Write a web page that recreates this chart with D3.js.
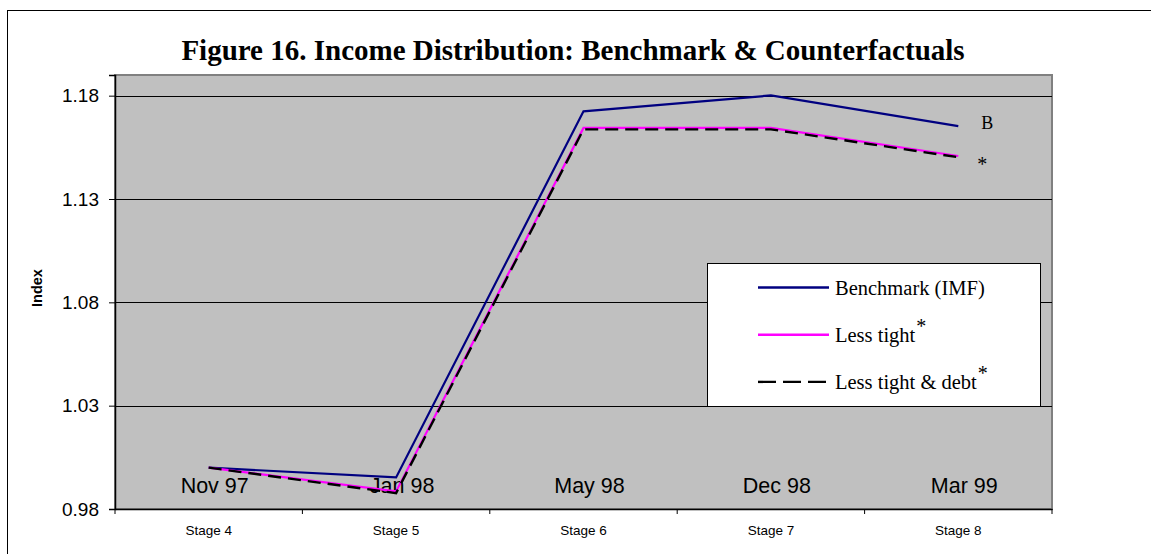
<!DOCTYPE html>
<html>
<head>
<meta charset="utf-8">
<script src="https://cdn.jsdelivr.net/npm/d3@7"></script>
<style>
  body { margin: 0; background: #fff; }
  svg { display: block; }
</style>
</head>
<body>
<div id="chart"></div>
<script>
// data
var stages = ["Stage 4", "Stage 5", "Stage 6", "Stage 7", "Stage 8"];
var dates = ["Nov 97", "Jan 98", "May 98", "Dec 98", "Mar 99"];
var benchmark = [1.000, 0.9953, 1.1724, 1.1801, 1.1653];
var lessTight = [1.000, 0.9885, 1.1644, 1.1644, 1.1508];
var lessTightDebt = [1.000, 0.9877, 1.1637, 1.1637, 1.1502];
var yTicks = [0.98, 1.03, 1.08, 1.13, 1.18];

var width = 1151, height = 554;
var plot = {left: 115, right: 1052, top: 75, bottom: 509};

var svg = d3.select("#chart").append("svg")
  .attr("width", width)
  .attr("height", height);

// outer frame (right/bottom run off the page)
svg.append("rect")
  .attr("x", 7.5).attr("y", 10.5)
  .attr("width", 1160).attr("height", 560)
  .attr("fill", "none").attr("stroke", "#000");

svg.append("text")
  .attr("x", 573).attr("y", 60)
  .attr("text-anchor", "middle")
  .style("font-family", "'Liberation Serif', 'Times New Roman', serif")
  .style("font-weight", "bold")
  .style("font-size", "29px")
  .text("Figure 16. Income Distribution: Benchmark & Counterfactuals");

var x = d3.scaleBand()
  .domain(stages)
  .range([plot.left, plot.right]);

var y = d3.scaleLinear()
  .domain([0.98, 1.19])
  .range([plot.bottom, plot.top]);

var cx = function(i) { return x(stages[i]) + x.bandwidth() / 2; };

// plot area
svg.append("rect")
  .attr("x", plot.left).attr("y", plot.top)
  .attr("width", plot.right - plot.left)
  .attr("height", plot.bottom - plot.top)
  .attr("fill", "#c0c0c0")
  .attr("stroke", "#808080")
  .attr("stroke-width", 2);

// gridlines
svg.append("g")
  .selectAll("line")
  .data(yTicks.slice(1))
  .enter().append("line")
  .attr("x1", plot.left).attr("x2", plot.right)
  .attr("y1", function(d) { return Math.round(y(d)) + 0.5; })
  .attr("y2", function(d) { return Math.round(y(d)) + 0.5; })
  .attr("stroke", "#000").attr("stroke-width", 1);

// y axis
var yAxis = svg.append("g")
  .attr("transform", "translate(" + plot.left + ",0)")
  .call(d3.axisLeft(y).tickValues(yTicks).tickFormat(d3.format(".2f")).tickSize(6).tickPadding(10));
yAxis.select(".domain").attr("stroke", "#000").attr("stroke-width", 1.5);
yAxis.selectAll("text")
  .style("font-family", "'Liberation Sans', Arial, sans-serif")
  .style("font-size", "19px")
  .attr("fill", "#000");

// x axis
var xAxis = svg.append("g")
  .attr("transform", "translate(0," + plot.bottom + ")")
  .call(d3.axisBottom(x).tickSize(0).tickPadding(16));
xAxis.select(".domain").attr("stroke", "#000").attr("stroke-width", 1.5);
xAxis.selectAll("text")
  .style("font-family", "'Liberation Sans', Arial, sans-serif")
  .style("font-size", "13.5px")
  .attr("fill", "#000");
// ticks between categories
xAxis.selectAll(".sep")
  .data(stages.concat(["end"]))
  .enter().append("line")
  .attr("class", "sep")
  .attr("x1", function(d, i) { return plot.left + i * x.bandwidth(); })
  .attr("x2", function(d, i) { return plot.left + i * x.bandwidth(); })
  .attr("y1", 0).attr("y2", 5)
  .attr("stroke", "#000");

svg.append("text")
  .attr("transform", "translate(42,288) rotate(-90)")
  .attr("text-anchor", "middle")
  .style("font-family", "'Liberation Sans', Arial, sans-serif")
  .style("font-weight", "bold")
  .style("font-size", "14.5px")
  .text("Index");

// date labels inside the plot
svg.append("g")
  .selectAll("text")
  .data(dates)
  .enter().append("text")
  .attr("x", function(d, i) { return cx(i) + 6; })
  .attr("y", 493)
  .attr("text-anchor", "middle")
  .style("font-family", "'Liberation Sans', Arial, sans-serif")
  .style("font-size", "21.5px")
  .text(function(d) { return d; });

var line = d3.line()
  .x(function(d, i) { return cx(i); })
  .y(function(d) { return y(d); });

svg.append("path").datum(benchmark)
  .attr("d", line).attr("fill", "none")
  .attr("stroke", "#000080").attr("stroke-width", 2.2);

svg.append("path").datum(lessTight)
  .attr("d", line).attr("fill", "none")
  .attr("stroke", "#ff00ff").attr("stroke-width", 2.2);

svg.append("path").datum(lessTightDebt)
  .attr("d", line).attr("fill", "none")
  .attr("stroke", "#000").attr("stroke-width", 2.4)
  .attr("stroke-dasharray", "13,7");

// end labels
var serif = "'Liberation Serif', 'Times New Roman', serif";
svg.append("text")
  .attr("x", cx(4) + 29).attr("y", y(benchmark[4]) + 3)
  .style("font-family", serif).style("font-size", "18px")
  .attr("text-anchor", "middle")
  .text("B");
svg.append("text")
  .attr("x", cx(4) + 24).attr("y", y(lessTight[4]) + 15)
  .style("font-family", serif).style("font-size", "20px")
  .attr("text-anchor", "middle")
  .text("*");

// legend
var legend = svg.append("g").attr("transform", "translate(707,263)");
legend.append("rect")
  .attr("x", 0.5).attr("y", 0.5)
  .attr("width", 333).attr("height", 143)
  .attr("fill", "#fff").attr("stroke", "#000");

var legendItems = [
  {label: "Benchmark (IMF)", color: "#000080", dash: null, star: false},
  {label: "Less tight", color: "#ff00ff", dash: null, star: true},
  {label: "Less tight & debt", color: "#000", dash: "18,7", star: true}
];

var rows = legend.selectAll(".item")
  .data(legendItems)
  .enter().append("g")
  .attr("class", "item")
  .attr("transform", function(d, i) { return "translate(0," + (24.5 + i * 47.2) + ")"; });

rows.append("line")
  .attr("x1", 51).attr("x2", 122)
  .attr("stroke", function(d) { return d.color; })
  .attr("stroke-width", 2.4)
  .attr("stroke-dasharray", function(d) { return d.dash; });

var lt = rows.append("text")
  .attr("x", 128).attr("y", 7.5)
  .style("font-family", serif)
  .style("font-size", "20.5px")
  .text(function(d) { return d.label; });
lt.filter(function(d) { return d.star; })
  .append("tspan")
  .attr("dx", 1).attr("dy", -9)
  .style("font-size", "20px")
  .text("*");
</script>
</body>
</html>
